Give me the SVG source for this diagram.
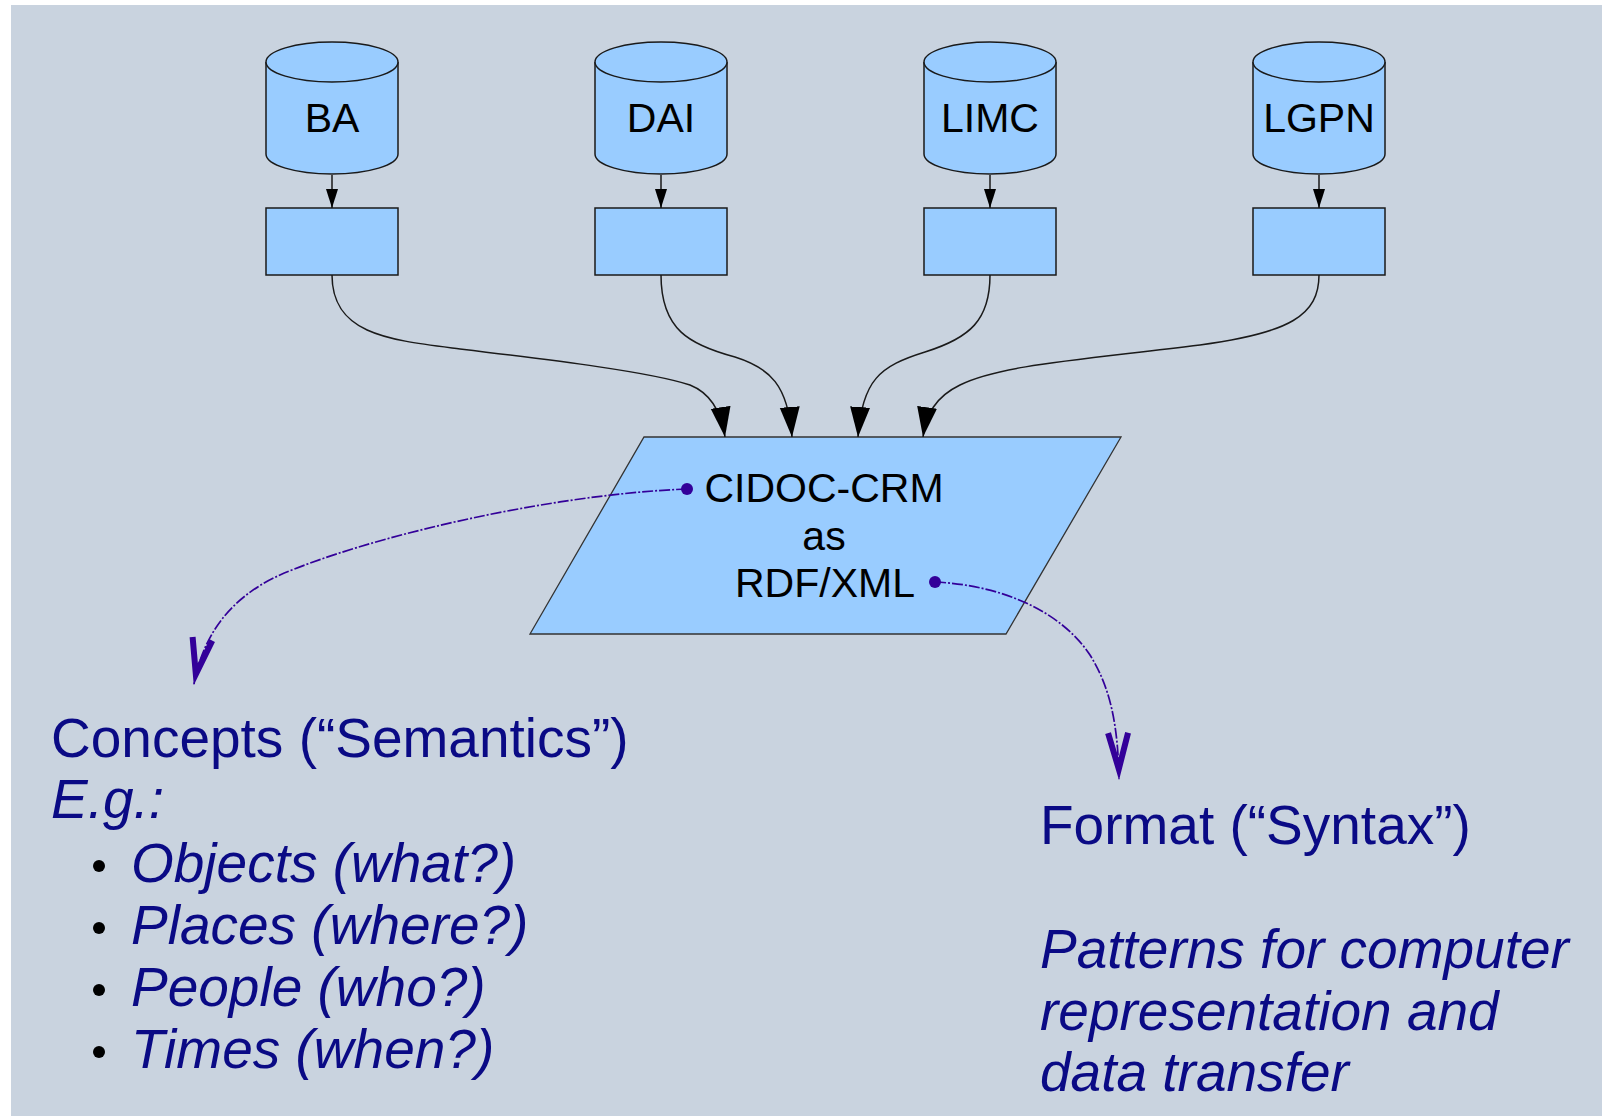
<svg xmlns="http://www.w3.org/2000/svg" width="1602" height="1117" viewBox="0 0 1602 1117">
<style>
.shape{fill:#99ccff;stroke:#1a1a1a;stroke-width:1.5}
.lbl{font-family:"Liberation Sans",Arial,sans-serif;fill:#000;text-anchor:middle}
.conn{fill:none;stroke:#1a1a1a;stroke-width:1.5}
.sem{fill:none;stroke:#330099;stroke-width:1.7;stroke-dasharray:11 2 2 2}
.big{font-family:"Liberation Sans",Arial,sans-serif;font-size:55px;fill:#0a0a85}
.it{font-style:italic}
</style>
<defs>
<marker id="bigArrow" markerUnits="userSpaceOnUse" markerWidth="32" markerHeight="22" refX="30" refY="11" orient="auto" viewBox="0 0 32 22">
<path d="M0,1 L30,11 L0,21 Z" fill="#000"/>
</marker>
<marker id="smallArrow" markerUnits="userSpaceOnUse" markerWidth="20" markerHeight="14" refX="19" refY="7" orient="auto" viewBox="0 0 20 14">
<path d="M0,1 L19,7 L0,13 Z" fill="#000"/>
</marker>
<marker id="vArrow" markerUnits="userSpaceOnUse" markerWidth="60" markerHeight="32" refX="50" refY="16" orient="auto" viewBox="0 0 60 32">
<path d="M4,6 L40,16 L4,26" fill="none" stroke="#330099" stroke-width="6" stroke-linejoin="miter" stroke-miterlimit="10"/>
</marker>
</defs>
<rect x="11" y="5" width="1591" height="1111" fill="#c9d3df"/>

<g id="db-BA">
<path class="shape" d="M266,62 V154 A66,20 0 0 0 398,154 V62"/>
<ellipse class="shape" cx="332" cy="62" rx="66" ry="20"/>
<text class="lbl" x="332" y="132" font-size="41">BA</text>
</g>
<g id="db-DAI">
<path class="shape" d="M595,62 V154 A66,20 0 0 0 727,154 V62"/>
<ellipse class="shape" cx="661" cy="62" rx="66" ry="20"/>
<text class="lbl" x="661" y="132" font-size="41">DAI</text>
</g>
<g id="db-LIMC">
<path class="shape" d="M924,62 V154 A66,20 0 0 0 1056,154 V62"/>
<ellipse class="shape" cx="990" cy="62" rx="66" ry="20"/>
<text class="lbl" x="990" y="132" font-size="41">LIMC</text>
</g>
<g id="db-LGPN">
<path class="shape" d="M1253,62 V154 A66,20 0 0 0 1385,154 V62"/>
<ellipse class="shape" cx="1319" cy="62" rx="66" ry="20"/>
<text class="lbl" x="1319" y="132" font-size="41">LGPN</text>
</g>

<g id="box-BA"><rect class="shape" x="266" y="208" width="132" height="67"/></g>
<g id="box-DAI"><rect class="shape" x="595" y="208" width="132" height="67"/></g>
<g id="box-LIMC"><rect class="shape" x="924" y="208" width="132" height="67"/></g>
<g id="box-LGPN"><rect class="shape" x="1253" y="208" width="132" height="67"/></g>

<g id="cidoc">
<polygon points="644,437 1121,437 1006,634 530,634" fill="#99ccff" stroke="#333" stroke-width="1.3"/>
<text class="lbl" x="824" y="502" font-size="41">CIDOC-CRM</text>
<text class="lbl" x="824" y="550" font-size="41">as</text>
<text class="lbl" x="825" y="597" font-size="41">RDF/XML</text>
</g>

<g id="concepts">
<text class="big" x="51" y="757">Concepts (“Semantics”)</text>
<text class="big it" x="51" y="818">E.g.:</text>
<circle cx="99" cy="866" r="6" fill="#000"/>
<text class="big it" x="131" y="882">Objects (what?)</text>
<circle cx="99" cy="928" r="6" fill="#000"/>
<text class="big it" x="131" y="944">Places (where?)</text>
<circle cx="99" cy="990" r="6" fill="#000"/>
<text class="big it" x="131" y="1006">People (who?)</text>
<circle cx="99" cy="1052" r="6" fill="#000"/>
<text class="big it" x="131" y="1068">Times (when?)</text>
</g>

<g id="format">
<text class="big" x="1040" y="844">Format (“Syntax”)</text>
<text class="big it" x="1040" y="968">Patterns for computer</text>
<text class="big it" x="1040" y="1030">representation and</text>
<text class="big it" x="1040" y="1091">data transfer</text>
</g>

<g id="connectors">
<line class="conn" x1="332" y1="175" x2="332" y2="208" marker-end="url(#smallArrow)"/>
<line class="conn" x1="661" y1="175" x2="661" y2="208" marker-end="url(#smallArrow)"/>
<line class="conn" x1="990" y1="175" x2="990" y2="208" marker-end="url(#smallArrow)"/>
<line class="conn" x1="1319" y1="175" x2="1319" y2="208" marker-end="url(#smallArrow)"/>
<path class="conn" d="M332,275 C332,335 390,340 460,349 C560,361 650,372 690,385 C710,393 721,410 725,437" marker-end="url(#bigArrow)"/>
<path class="conn" d="M661,275 C661,330 690,345 735,357 C770,368 788,385 792,437" marker-end="url(#bigArrow)"/>
<path class="conn" d="M990,275 C990,320 970,338 925,352 C880,366 862,380 858,437" marker-end="url(#bigArrow)"/>
<path class="conn" d="M1319,275 C1319,315 1290,333 1200,345 C1080,360 1000,365 960,385 C935,397 926,415 923,437" marker-end="url(#bigArrow)"/>
<path class="sem" d="M687,489 C540,495 360,540 280,575 C240,593 205,625 194,684" marker-end="url(#vArrow)"/>
<path class="sem" d="M935,582 C1000,585 1060,610 1090,655 C1112,690 1118,730 1119,779" marker-end="url(#vArrow)"/>
<circle cx="687" cy="489" r="6" fill="#330099"/>
<circle cx="935" cy="582" r="6" fill="#330099"/>
</g>
</svg>
